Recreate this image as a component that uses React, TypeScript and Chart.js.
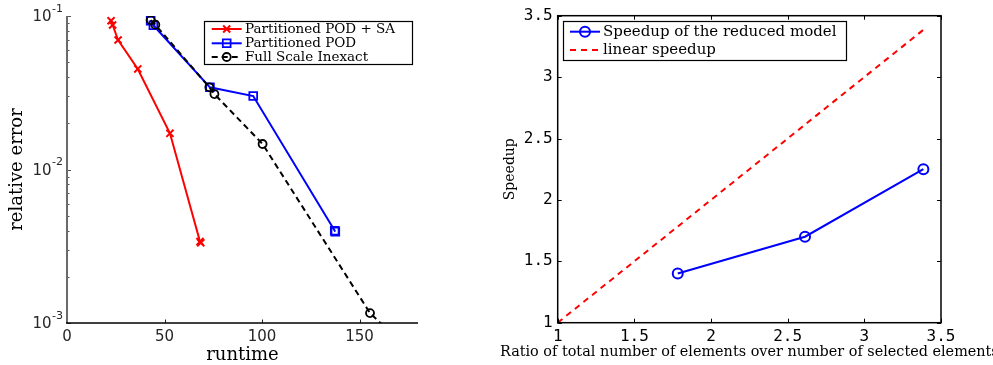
import React, { useEffect, useRef } from 'react';
import { Chart, registerables } from 'chart.js';

Chart.register(...registerables);

// ---------- Left chart data ----------
const RUNTIME_SA = [22.6, 23.4, 26.2, 36.3, 52.8, 68.2, 68.6];
const ERROR_SA = [0.0931, 0.0874, 0.0698, 0.0452, 0.0172, 0.00339, 0.00333];
const RUNTIME_POD = [42.9, 44.3, 73.3, 95.5, 137.3, 137.6];
const ERROR_POD = [0.0931, 0.087, 0.0343, 0.0301, 0.00399, 0.00394];
const RUNTIME_FULL = [42.9, 45.3, 73.0, 75.6, 100.3, 155.4, 175];
const ERROR_FULL = [0.094, 0.0878, 0.0343, 0.031, 0.01466, 0.00116, 0.00067];
const LEFT_LABELS = ['Partitioned POD + SA', 'Partitioned POD', 'Full Scale Inexact'];
const RUNTIME_TICKS = [0, 50, 100, 150];
const ERROR_TICKS = [0.001, 0.01, 0.1];
const ERROR_TICK_BASE = '10';
const ERROR_TICK_EXP = ['-3', '-2', '-1'];
const LEFT_X_TITLE = 'runtime';
const LEFT_Y_TITLE = 'relative error';

// ---------- Right chart data ----------
const RATIO = [1.783, 2.613, 3.385];
const SPEEDUP = [1.4, 1.7, 2.25];
const LINEAR_X = [1, 3.4];
const LINEAR_Y = [1, 3.4];
const RIGHT_LABELS = ['Speedup of the reduced model', 'linear speedup'];
const RATIO_TICKS = [1, 1.5, 2, 2.5, 3, 3.5];
const SPEEDUP_TICKS = [1, 1.5, 2, 2.5, 3, 3.5];
const RIGHT_X_TITLE = 'Ratio of total number of elements over number of selected elements';
const RIGHT_Y_TITLE = 'Speedup';

const SERIF = '"DejaVu Serif"';

function pts(xs: number[], ys: number[]) {
  return xs.map((x, i) => ({ x, y: ys[i] }));
}

function drawMarker(ctx: CanvasRenderingContext2D, style: string, x: number, y: number, r: number, color: string, lw: number) {
  ctx.save();
  ctx.strokeStyle = color;
  ctx.lineWidth = lw;
  ctx.setLineDash([]);
  ctx.beginPath();
  if (style === 'crossRot') {
    const d = r * Math.SQRT1_2;
    ctx.moveTo(x - d, y - d);
    ctx.lineTo(x + d, y + d);
    ctx.moveTo(x - d, y + d);
    ctx.lineTo(x + d, y - d);
  } else if (style === 'rect') {
    const s = r * Math.SQRT1_2;
    ctx.rect(x - s, y - s, 2 * s, 2 * s);
  } else {
    ctx.arc(x, y, r, 0, Math.PI * 2);
  }
  ctx.stroke();
  ctx.restore();
}

function legendPlugin(cfg: { x: number; y: number; w: number; h: number; lineX0: number; lineX1: number; textX: number; rows: number[]; font: string }) {
  return {
    id: 'customLegend',
    afterDraw(chart: any) {
      const ctx: CanvasRenderingContext2D = chart.ctx;
      ctx.save();
      ctx.fillStyle = '#fff';
      ctx.fillRect(cfg.x, cfg.y, cfg.w, cfg.h);
      ctx.strokeStyle = '#000';
      ctx.lineWidth = 1.2;
      ctx.strokeRect(cfg.x, cfg.y, cfg.w, cfg.h);
      chart.data.datasets.forEach((ds: any, i: number) => {
        const yy = cfg.rows[i];
        ctx.save();
        ctx.strokeStyle = ds.borderColor;
        ctx.lineWidth = ds.borderWidth;
        ctx.setLineDash(ds.borderDash || []);
        ctx.beginPath();
        ctx.moveTo(cfg.lineX0, yy);
        ctx.lineTo(cfg.lineX1, yy);
        ctx.stroke();
        ctx.restore();
        if (ds.pointRadius > 0) {
          drawMarker(ctx, ds.pointStyle, (cfg.lineX0 + cfg.lineX1) / 2, yy, ds.pointRadius, ds.pointBorderColor, ds.pointBorderWidth);
        }
        ctx.fillStyle = '#000';
        ctx.font = cfg.font;
        ctx.textBaseline = 'middle';
        ctx.textAlign = 'left';
        ctx.fillText(ds.label, cfg.textX, yy);
      });
      ctx.restore();
    },
  };
}

const leftFramePlugin = {
  id: 'leftFrame',
  afterDraw(chart: any) {
    const ctx: CanvasRenderingContext2D = chart.ctx;
    const a = chart.chartArea;
    const ys = chart.scales.y;
    const xs = chart.scales.x;
    ctx.save();
    // minor log ticks
    ctx.strokeStyle = '#555';
    ctx.lineWidth = 1;
    for (let d = -3; d < -1; d++) {
      for (let k = 2; k <= 9; k++) {
        const v = k * Math.pow(10, d);
        const py = Math.round(ys.getPixelForValue(v)) + 0.5;
        ctx.beginPath();
        ctx.moveTo(a.left, py);
        ctx.lineTo(a.left + 2.5, py);
        ctx.stroke();
      }
    }
    ERROR_TICKS.forEach((v) => {
      const py = Math.round(ys.getPixelForValue(v)) + 0.5;
      ctx.beginPath();
      ctx.moveTo(a.left, py);
      ctx.lineTo(a.left + 4, py);
      ctx.stroke();
    });
    // y tick labels: base with raised exponent
    ctx.fillStyle = '#262626';
    ctx.textBaseline = 'middle';
    ctx.textAlign = 'right';
    ERROR_TICKS.forEach((v, i) => {
      const py = ys.getPixelForValue(v);
      const xr = a.left - 4;
      ctx.font = '11px "DejaVu Sans"';
      const ew = ctx.measureText(ERROR_TICK_EXP[i]).width;
      ctx.fillText(ERROR_TICK_EXP[i], xr, py - 7);
      ctx.font = '15px "DejaVu Sans"';
      ctx.fillText(ERROR_TICK_BASE, xr - ew - 0.5, py + 1.5);
    });
    ctx.strokeStyle = '#222';
    RUNTIME_TICKS.forEach((v) => {
      const px = Math.round(xs.getPixelForValue(v)) + 0.5;
      ctx.beginPath();
      ctx.moveTo(px, a.bottom);
      ctx.lineTo(px, a.bottom - 3.5);
      ctx.stroke();
    });
    // axes
    ctx.strokeStyle = '#6a6a6a';
    ctx.lineWidth = 2;
    ctx.beginPath();
    ctx.moveTo(a.left, a.top);
    ctx.lineTo(a.left, a.bottom);
    ctx.stroke();
    ctx.strokeStyle = '#000';
    ctx.lineWidth = 1.4;
    ctx.beginPath();
    ctx.moveTo(a.left - 1, a.bottom);
    ctx.lineTo(a.right, a.bottom);
    ctx.stroke();
    ctx.restore();
  },
};

const rightFramePlugin = {
  id: 'rightFrame',
  afterDraw(chart: any) {
    const ctx: CanvasRenderingContext2D = chart.ctx;
    const a = chart.chartArea;
    const ys = chart.scales.y;
    const xs = chart.scales.x;
    ctx.save();
    ctx.strokeStyle = '#000';
    ctx.lineWidth = 1;
    RATIO_TICKS.forEach((v) => {
      const px = Math.round(xs.getPixelForValue(v)) + 0.5;
      ctx.beginPath();
      ctx.moveTo(px, a.bottom);
      ctx.lineTo(px, a.bottom - 4);
      ctx.moveTo(px, a.top);
      ctx.lineTo(px, a.top + 4);
      ctx.stroke();
    });
    SPEEDUP_TICKS.forEach((v) => {
      const py = Math.round(ys.getPixelForValue(v)) + 0.5;
      ctx.beginPath();
      ctx.moveTo(a.left, py);
      ctx.lineTo(a.left + 4, py);
      ctx.moveTo(a.right, py);
      ctx.lineTo(a.right - 4, py);
      ctx.stroke();
    });
    ctx.lineWidth = 1.5;
    ctx.strokeRect(a.left, a.top, a.right - a.left, a.bottom - a.top);
    // x title (wider than the axes, so drawn here, clipped by the canvas edge)
    ctx.fillStyle = '#000';
    ctx.font = `14.4px ${SERIF}`;
    ctx.textAlign = 'center';
    ctx.textBaseline = 'alphabetic';
    ctx.fillText(RIGHT_X_TITLE, (a.left + a.right) / 2, 356);
    ctx.restore();
  },
};

function leftConfig(): any {
  return {
    type: 'line',
    data: {
      datasets: [
        {
          label: LEFT_LABELS[0],
          data: pts(RUNTIME_SA, ERROR_SA),
          borderColor: '#ff0000',
          borderWidth: 2,
          pointStyle: 'crossRot',
          pointRadius: 5,
          pointBorderColor: '#ff0000',
          pointBackgroundColor: 'rgba(0,0,0,0)',
          pointBorderWidth: 2,
          order: 1,
        },
        {
          label: LEFT_LABELS[1],
          data: pts(RUNTIME_POD, ERROR_POD),
          borderColor: '#0000ff',
          borderWidth: 2,
          pointStyle: 'rect',
          pointRadius: 5.5,
          pointBorderColor: '#0000ff',
          pointBackgroundColor: 'rgba(0,0,0,0)',
          pointBorderWidth: 1.8,
          order: 2,
        },
        {
          label: LEFT_LABELS[2],
          data: pts(RUNTIME_FULL, ERROR_FULL),
          borderColor: '#000000',
          borderWidth: 2,
          borderDash: [6, 4],
          pointStyle: 'circle',
          pointRadius: 4,
          pointBorderColor: '#000000',
          pointBackgroundColor: 'rgba(0,0,0,0)',
          pointBorderWidth: 1.8,
          clip: 0,
          order: 0,
        },
      ],
    },
    options: {
      responsive: false,
      animation: false,
      events: [],
      layout: { padding: { left: 0, top: 16, right: 62, bottom: 0 } },
      plugins: { legend: { display: false }, tooltip: { enabled: false } },
      elements: { line: { tension: 0 } },
      scales: {
        x: {
          type: 'linear',
          min: 0,
          max: 180,
          afterBuildTicks: (s: any) => { s.ticks = RUNTIME_TICKS.map((v) => ({ value: v })); },
          afterFit: (s: any) => { s.height = 42; },
          grid: { display: true, drawOnChartArea: false, drawTicks: false },
          border: { display: false },
          ticks: {
            autoSkip: false,
            maxRotation: 0,
            padding: 5,
            color: '#262626',
            font: { family: 'DejaVu Sans', size: 15 },
            callback: (v: any) => String(v),
          },
          title: {
            display: true,
            text: LEFT_X_TITLE,
            color: '#000',
            font: { family: 'DejaVu Serif', size: 18 },
            padding: { top: 0, bottom: -1 },
          },
        },
        y: {
          type: 'logarithmic',
          min: 0.001,
          max: 0.1,
          afterBuildTicks: (s: any) => { s.ticks = ERROR_TICKS.map((v) => ({ value: v })); },
          afterFit: (s: any) => { s.width = 67; },
          grid: { display: true, drawOnChartArea: false, drawTicks: false },
          border: { display: false },
          ticks: { display: false },
          title: {
            display: true,
            text: LEFT_Y_TITLE,
            color: '#000',
            font: { family: 'DejaVu Serif', size: 18 },
            padding: { top: 7, bottom: 0 },
          },
        },
      },
    },
    plugins: [
      leftFramePlugin,
      legendPlugin({ x: 204.5, y: 21.5, w: 208, h: 43, lineX0: 211.7, lineX1: 241.7, textX: 245, rows: [29, 43.3, 57], font: `13.5px ${SERIF}` }),
    ],
  };
}

function rightConfig(): any {
  return {
    type: 'line',
    data: {
      datasets: [
        {
          label: RIGHT_LABELS[0],
          data: pts(RATIO, SPEEDUP),
          borderColor: '#0000ff',
          borderWidth: 2,
          pointStyle: 'circle',
          pointRadius: 5,
          pointBorderColor: '#0000ff',
          pointBackgroundColor: 'rgba(0,0,0,0)',
          pointBorderWidth: 2,
          order: 0,
        },
        {
          label: RIGHT_LABELS[1],
          data: pts(LINEAR_X, LINEAR_Y),
          borderColor: '#ff0000',
          borderWidth: 2,
          borderDash: [6, 5],
          pointRadius: 0,
          pointStyle: 'circle',
          pointBorderColor: '#ff0000',
          pointBorderWidth: 0,
          order: 1,
        },
      ],
    },
    options: {
      responsive: false,
      animation: false,
      events: [],
      layout: { padding: { left: 0, top: 15.7, right: 52, bottom: 0 } },
      plugins: { legend: { display: false }, tooltip: { enabled: false } },
      elements: { line: { tension: 0 } },
      scales: {
        x: {
          type: 'linear',
          min: 1,
          max: 3.5,
          afterBuildTicks: (s: any) => { s.ticks = RATIO_TICKS.map((v) => ({ value: v })); },
          afterFit: (s: any) => { s.height = 42.3; },
          grid: { display: true, drawOnChartArea: false, drawTicks: false },
          border: { display: false },
          ticks: {
            autoSkip: false,
            maxRotation: 0,
            padding: 5,
            color: '#000',
            font: { family: 'DejaVu Sans Mono', size: 16 },
            callback: (v: any) => String(v),
          },
          title: { display: false },
        },
        y: {
          type: 'linear',
          min: 1,
          max: 3.5,
          afterBuildTicks: (s: any) => { s.ticks = SPEEDUP_TICKS.map((v) => ({ value: v })); },
          afterFit: (s: any) => { s.width = 77.7; },
          grid: { display: true, drawOnChartArea: false, drawTicks: false },
          border: { display: false },
          ticks: {
            autoSkip: false,
            padding: 5,
            color: '#000',
            font: { family: 'DejaVu Sans Mono', size: 16 },
            callback: (v: any) => String(v),
          },
          title: {
            display: true,
            text: RIGHT_Y_TITLE,
            color: '#000',
            font: { family: 'DejaVu Serif', size: 14 },
            padding: { top: 21.6, bottom: 0 },
          },
        },
      },
    },
    plugins: [
      rightFramePlugin,
      legendPlugin({ x: 83.5, y: 21.5, w: 283, h: 39, lineX0: 90, lineX1: 120, textX: 123, rows: [31.7, 50], font: `15px ${SERIF}` }),
    ],
  };
}

export default function App() {
  const leftRef = useRef<HTMLCanvasElement>(null);
  const rightRef = useRef<HTMLCanvasElement>(null);
  useEffect(() => {
    const left = new Chart(leftRef.current as HTMLCanvasElement, leftConfig());
    const right = new Chart(rightRef.current as HTMLCanvasElement, rightConfig());
    return () => {
      left.destroy();
      right.destroy();
    };
  }, []);
  return (
    <div style={{ position: 'absolute', left: 0, top: 0, width: 993, height: 365, background: '#fff', overflow: 'hidden' }}>
      <canvas ref={leftRef} width={480} height={365} style={{ position: 'absolute', left: 0, top: 0 }} />
      <canvas ref={rightRef} width={513} height={365} style={{ position: 'absolute', left: 480, top: 0 }} />
    </div>
  );
}
